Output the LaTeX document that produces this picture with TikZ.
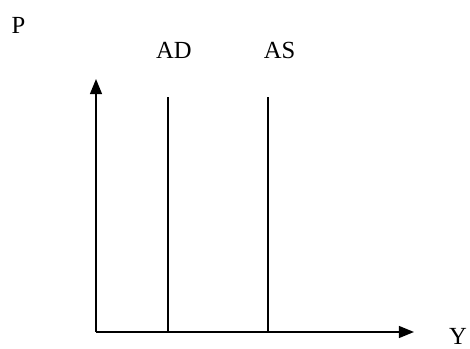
\documentclass[tikz,border=0pt]{standalone}
\usepackage{fontspec}
\setmainfont{Liberation Serif}
\usetikzlibrary{arrows.meta}

\tikzset{
	axis/.style={line width=1.1pt, -{Triangle[length=0.38cm,width=0.3cm]}},
	curve/.style={line width=1.1pt},
	lbl/.style={inner sep=0pt, font=\fontsize{17.5}{20}\selectfont}
}

\begin{document}
\begin{tikzpicture}
	\useasboundingbox (0,0) rectangle (11.75,8.725);
	\coordinate (O) at (2.4,0.425);
	\coordinate (ptip) at (2.4,6.75);
	\coordinate (ytip) at (10.35,0.425);
	\coordinate (adtop) at (4.2,6.3);
	\coordinate (adbot) at (4.2,0.425);
	\coordinate (astop) at (6.7,6.3);
	\coordinate (asbot) at (6.7,0.425);
	\draw[color=black, axis] (O) -- (ptip);
	\draw[color=black, axis] (O) -- (ytip);
	\draw[color=black, curve] (adbot) -- (adtop);
	\draw[color=black, curve] (asbot) -- (astop);
	\node[lbl] (p) at (0.46,8.1) {P};
	\node[lbl] (ad) at (4.35,7.475) {AD};
	\node[lbl] (as) at (6.99,7.475) {AS};
	\node[lbl] (y) at (11.45,0.32) {Y};
\end{tikzpicture}
\end{document}
